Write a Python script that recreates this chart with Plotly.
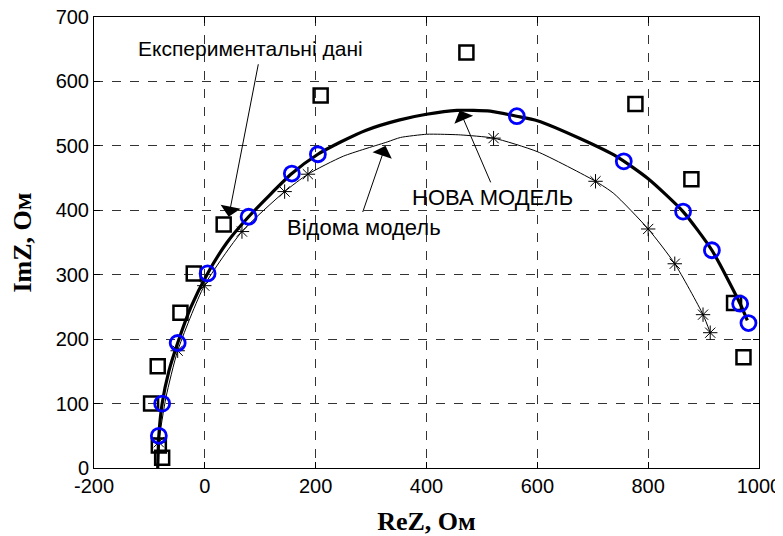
import plotly.graph_objects as go

# Experimental data (squares)
exp_re = [-77, -83, -97, -85, -44, -20, 34, 209, 472, 777, 878, 955, 972]
exp_im = [16, 35, 100, 158, 241, 302, 378, 578, 645, 565, 448, 256, 172]

# New model (blue circles) and its curve
new_re = [-83, -77, -49, 5, 79, 157, 204, 563, 756, 863, 915, 966, 981]
new_im = [50, 100, 194, 302, 390, 457, 487, 546, 476, 398, 338, 255, 225]
new_curve_re = [-85, -83, -77, -65, -49, -25, 5, 40, 79, 157, 204, 245, 290, 350, 400, 455, 515, 563, 600, 678, 744, 800, 863, 915, 966, 979]
new_curve_im = [0, 50, 100, 150, 194, 250, 302, 350, 390, 457, 487, 506, 524, 540, 549, 555, 554, 546, 539, 511, 483, 449, 398, 338, 255, 229]

# Known model (stars) and its curve
old_re = [-83, -49, -1, 67, 144, 186, 521, 705, 800, 848, 899, 912]
old_im = [40, 182, 283, 367, 429, 456, 512, 445, 371, 317, 238, 210]
old_curve_re = [-85, -83, -70, -49, -1, 67, 144, 186, 250, 329, 353, 400, 425, 461, 521, 600, 705, 738, 800, 848, 899, 912]
old_curve_im = [0, 40, 110, 182, 283, 367, 429, 456, 484, 506, 513, 518, 518, 517, 512, 491, 445, 426, 371, 317, 238, 210]

x_ticks = [-200, 0, 200, 400, 600, 800, 1000]
x_tick_labels = ["-200", "0", "200", "400", "600", "800", "1000"]
y_ticks = [0, 100, 200, 300, 400, 500, 600, 700]

fig = go.Figure()
fig.add_trace(go.Scatter(x=old_curve_re, y=old_curve_im, mode="lines",
                         line=dict(color="black", width=1, shape="spline", smoothing=0.6), showlegend=False))
fig.add_trace(go.Scatter(x=new_curve_re, y=new_curve_im, mode="lines",
                         line=dict(color="black", width=3.2, shape="spline", smoothing=0.6), showlegend=False))
fig.add_trace(go.Scatter(x=exp_re, y=exp_im, mode="markers",
                         marker=dict(symbol="square-open", size=14, color="black",
                                     line=dict(width=2.5, color="black")), showlegend=False))
fig.add_trace(go.Scatter(x=old_re, y=old_im, mode="markers",
                         marker=dict(symbol="asterisk-open", size=12, color="black",
                                     line=dict(width=1, color="black")), showlegend=False))
fig.add_trace(go.Scatter(x=new_re, y=new_im, mode="markers",
                         marker=dict(symbol="circle-open", size=15, color="#0000ff",
                                     line=dict(width=2.8, color="#0000ff")), showlegend=False))

def afont(s):
    return dict(family="Liberation Sans, Arial", size=s, color="black")

def arrow(hx, hy, tx, ty):
    fig.add_annotation(x=hx, y=hy, ax=tx, ay=ty, xref="x", yref="y", axref="x", ayref="y",
                       text="", showarrow=True, arrowhead=1, arrowsize=3.4, arrowwidth=1,
                       arrowcolor="black", standoff=0, startstandoff=0)

fig.add_annotation(x=82, y=651, xref="x", yref="y", text="Експериментальні дані",
                   showarrow=False, font=afont(21))
arrow(43, 390, 97, 629)
fig.add_annotation(x=288, y=373, xref="x", yref="y", text="Відома модель",
                   showarrow=False, font=afont(22))
arrow(326, 500, 284, 395)
fig.add_annotation(x=519, y=420, xref="x", yref="y", text="НОВА МОДЕЛЬ",
                   showarrow=False, font=afont(22))
arrow(460, 555, 517, 441)

axis_common = dict(showline=True, linecolor="black", linewidth=1, mirror="ticks",
                   ticks="inside", ticklen=6, tickcolor="black", zeroline=False,
                   showgrid=True, gridcolor="#333333", griddash="dash", gridwidth=1,
                   automargin=False, ticklabeloverflow="allow",
                   tickfont=dict(family="Liberation Sans, Arial", size=20, color="black"))

# The page body adds an 8px offset, so margins are shifted to place the plot area
fig.update_layout(
    width=783, height=536,
    margin=dict(l=86, r=32, t=9, b=76),
    plot_bgcolor="white", paper_bgcolor="white",
    xaxis=dict(range=[-200, 1000], tickvals=x_ticks, ticktext=x_tick_labels,
               title=dict(text="<b>ReZ, Ом</b>", standoff=15,
                          font=dict(family="Liberation Serif, Times New Roman", size=26, color="black")),
               **axis_common),
    yaxis=dict(range=[0, 700], tickvals=y_ticks,
               title=dict(text="<b>ImZ, Ом</b>", standoff=16,
                          font=dict(family="Liberation Serif, Times New Roman", size=26, color="black")),
               **axis_common),
)

fig.write_html("out.html")
